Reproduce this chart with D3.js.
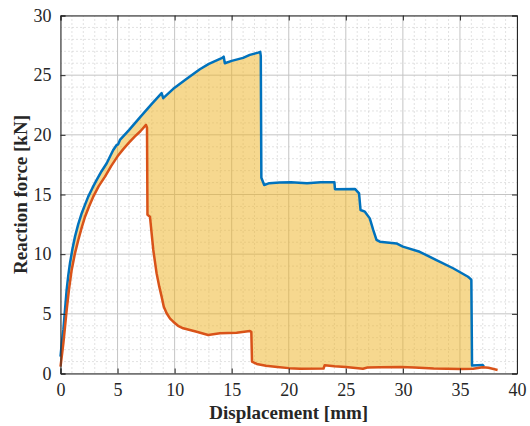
<!DOCTYPE html>
<html>
<head>
<meta charset="utf-8">
<script src="https://cdn.jsdelivr.net/npm/d3@7"></script>
<style>
  html, body { margin: 0; padding: 0; background: #fff; }
  svg { display: block; }
  svg text { font-family: 'Liberation Serif', 'Times New Roman', Times, 'DejaVu Serif', serif !important; fill: #262626; }
</style>
</head>
<body>
<svg id="chart" width="530" height="426"></svg>
<script>
// ---- data ----
const xTicks = [0, 5, 10, 15, 20, 25, 30, 35, 40];
const yTicks = [0, 5, 10, 15, 20, 25, 30];
const xLabel = "Displacement [mm]";
const yLabel = "Reaction force [kN]";

// upper curve (blue)
const blueX = [0, 0.12, 0.25, 0.4, 0.54, 0.68, 0.83, 1.05, 1.27, 1.55, 1.86, 2.15, 2.43, 2.8, 3.17, 3.6, 4.05, 4.35, 4.62, 4.92, 5.05, 5.21, 6, 7, 8, 8.86, 9.0, 10, 11, 12.21, 13, 14.12, 14.3, 14.4, 15, 16, 16.59, 17.32, 17.5, 17.55, 17.6, 17.85, 18.3, 19.2, 20.2, 21.6, 22.8, 24.0, 24.05, 25.8, 26.16, 26.29, 26.67, 27.1, 27.4, 27.69, 27.98, 29.44, 30.0, 31.47, 32.94, 34.4, 35.71, 35.9, 36.0, 36.06, 37.0, 37.1];
const blueY = [1.41, 2.6, 3.65, 5.4, 7.0, 8.2, 9.24, 10.45, 11.47, 12.5, 13.43, 14.15, 14.82, 15.55, 16.22, 16.95, 17.62, 18.2, 18.73, 19.15, 19.2, 19.57, 20.4, 21.5, 22.6, 23.49, 23.07, 23.95, 24.65, 25.5, 25.95, 26.42, 26.55, 26.0, 26.2, 26.45, 26.7, 26.89, 26.95, 26.6, 16.4, 15.8, 15.95, 16.0, 16.03, 15.95, 16.02, 16.03, 15.44, 15.47, 15.1, 13.7, 13.56, 13.0, 12.03, 11.2, 11.05, 10.9, 10.63, 10.2, 9.51, 8.82, 8.11, 7.95, 7.84, 0.68, 0.71, 0.6];

// lower curve (orange)
const orangeX = [0, 0.12, 0.25, 0.4, 0.54, 0.75, 0.98, 1.25, 1.56, 1.85, 2.15, 2.5, 2.87, 3.35, 3.9, 4.45, 5, 5.5, 6, 6.5, 7, 7.49, 7.58, 7.62, 7.84, 8.0, 8.13, 8.42, 8.65, 8.86, 9.05, 9.3, 9.6, 9.88, 10.3, 10.75, 11.93, 12.94, 13.97, 15.43, 16.6, 16.72, 16.78, 17.2, 18, 19, 20, 21, 23.05, 23.15, 24, 25, 26.5, 26.9, 28, 29.8, 31, 32.7, 35, 36.15, 37.0, 37.5, 38.3];
const orangeY = [0.57, 1.5, 2.53, 3.95, 5.32, 7.1, 8.68, 10.0, 11.19, 12.2, 13.14, 14.0, 14.82, 15.7, 16.5, 17.4, 18.2, 18.8, 19.35, 19.85, 20.3, 20.83, 20.6, 13.3, 13.14, 11.6, 10.35, 8.4, 7.3, 6.44, 5.6, 5.05, 4.6, 4.34, 4.0, 3.79, 3.5, 3.23, 3.37, 3.42, 3.56, 3.5, 1.0, 0.8, 0.65, 0.55, 0.45, 0.4, 0.42, 0.7, 0.6, 0.55, 0.4, 0.5, 0.52, 0.55, 0.5, 0.42, 0.37, 0.4, 0.52, 0.48, 0.3];

// ---- layout ----
const L = 60.5, R = 517, T = 15.5, B = 373.5;
const FONT = "'Liberation Serif', 'Times New Roman', Times, 'DejaVu Serif', serif";
const svg = d3.select("#chart");
const x = d3.scaleLinear().domain([0, 40]).range([L, R]);
const y = d3.scaleLinear().domain([0, 30]).range([B, T]);

const blue = blueX.map((d, i) => [d, blueY[i]]);
const orange = orangeX.map((d, i) => [d, orangeY[i]]);

// minor grid (dotted)
const minorX = d3.range(0, 41).filter(v => v % 5 !== 0);
const minorY = d3.range(0, 31).filter(v => v % 5 !== 0);
const g = svg.append("g");
g.selectAll(".mx").data(minorX).enter().append("line")
  .attr("x1", d => x(d)).attr("x2", d => x(d)).attr("y1", T).attr("y2", B)
  .attr("stroke", "#b8b8b8").attr("stroke-width", 0.8).attr("stroke-dasharray", "1,3");
g.selectAll(".my").data(minorY).enter().append("line")
  .attr("y1", d => y(d)).attr("y2", d => y(d)).attr("x1", L).attr("x2", R)
  .attr("stroke", "#b8b8b8").attr("stroke-width", 0.8).attr("stroke-dasharray", "1,3");
// major grid
g.selectAll(".gx").data(xTicks).enter().append("line")
  .attr("x1", d => x(d)).attr("x2", d => x(d)).attr("y1", T).attr("y2", B)
  .attr("stroke", "#c4c4c4").attr("stroke-width", 1);
g.selectAll(".gy").data(yTicks).enter().append("line")
  .attr("y1", d => y(d)).attr("y2", d => y(d)).attr("x1", L).attr("x2", R)
  .attr("stroke", "#c4c4c4").attr("stroke-width", 1);

// fill between curves
const lineGen = d3.line().x(d => x(d[0])).y(d => y(d[1]));
const blueFill = blue.filter(d => d[0] <= 36.06);
const orangeFill = orange.filter(d => d[0] <= 36.15).slice().reverse();
svg.append("path")
  .attr("d", lineGen(blueFill.concat(orangeFill)) + "Z")
  .attr("fill", "#EDB120").attr("fill-opacity", 0.5).attr("stroke", "none");

// lines
svg.append("path").attr("d", lineGen(blue))
  .attr("fill", "none").attr("stroke", "#0072BD").attr("stroke-width", 2.5)
  .attr("stroke-linejoin", "round");
svg.append("path").attr("d", lineGen(orange))
  .attr("fill", "none").attr("stroke", "#D95319").attr("stroke-width", 2.5)
  .attr("stroke-linejoin", "round");

// axes
const xAxis = d3.axisBottom(x).tickValues(xTicks).tickSize(-5).tickPadding(10);
const yAxis = d3.axisLeft(y).tickValues(yTicks).tickSize(-5).tickPadding(9);
const gx = svg.append("g").attr("transform", `translate(0,${B})`).call(xAxis);
const gy = svg.append("g").attr("transform", `translate(${L},0)`).call(yAxis);
[gx, gy].forEach(a => {
  a.attr("font-family", FONT).attr("font-size", 18);
  a.select(".domain").attr("stroke", "#262626");
  a.selectAll(".tick line").attr("stroke", "#262626");
  a.selectAll(".tick text").attr("font-family", FONT).attr("font-size", 18).attr("fill", "#262626");
});
// top & right frame
svg.append("g").attr("transform", `translate(0,${T})`)
  .call(d3.axisTop(x).tickValues(xTicks).tickSize(-5).tickFormat(""))
  .call(a => { a.select(".domain").attr("stroke", "#262626"); a.selectAll(".tick line").attr("stroke", "#262626"); });
svg.append("g").attr("transform", `translate(${R},0)`)
  .call(d3.axisRight(y).tickValues(yTicks).tickSize(-5).tickFormat(""))
  .call(a => { a.select(".domain").attr("stroke", "#262626"); a.selectAll(".tick line").attr("stroke", "#262626"); });

// labels
svg.append("text").attr("x", (L + R) / 2).attr("y", 419)
  .attr("text-anchor", "middle").attr("font-weight", "bold").attr("font-size", 19)
  .attr("font-family", FONT)
  .text(xLabel);
svg.append("text").attr("transform", `translate(27,${(T + B) / 2}) rotate(-90)`)
  .attr("text-anchor", "middle").attr("font-weight", "bold").attr("font-size", 19)
  .attr("font-family", FONT)
  .text(yLabel);
</script>
</body>
</html>
